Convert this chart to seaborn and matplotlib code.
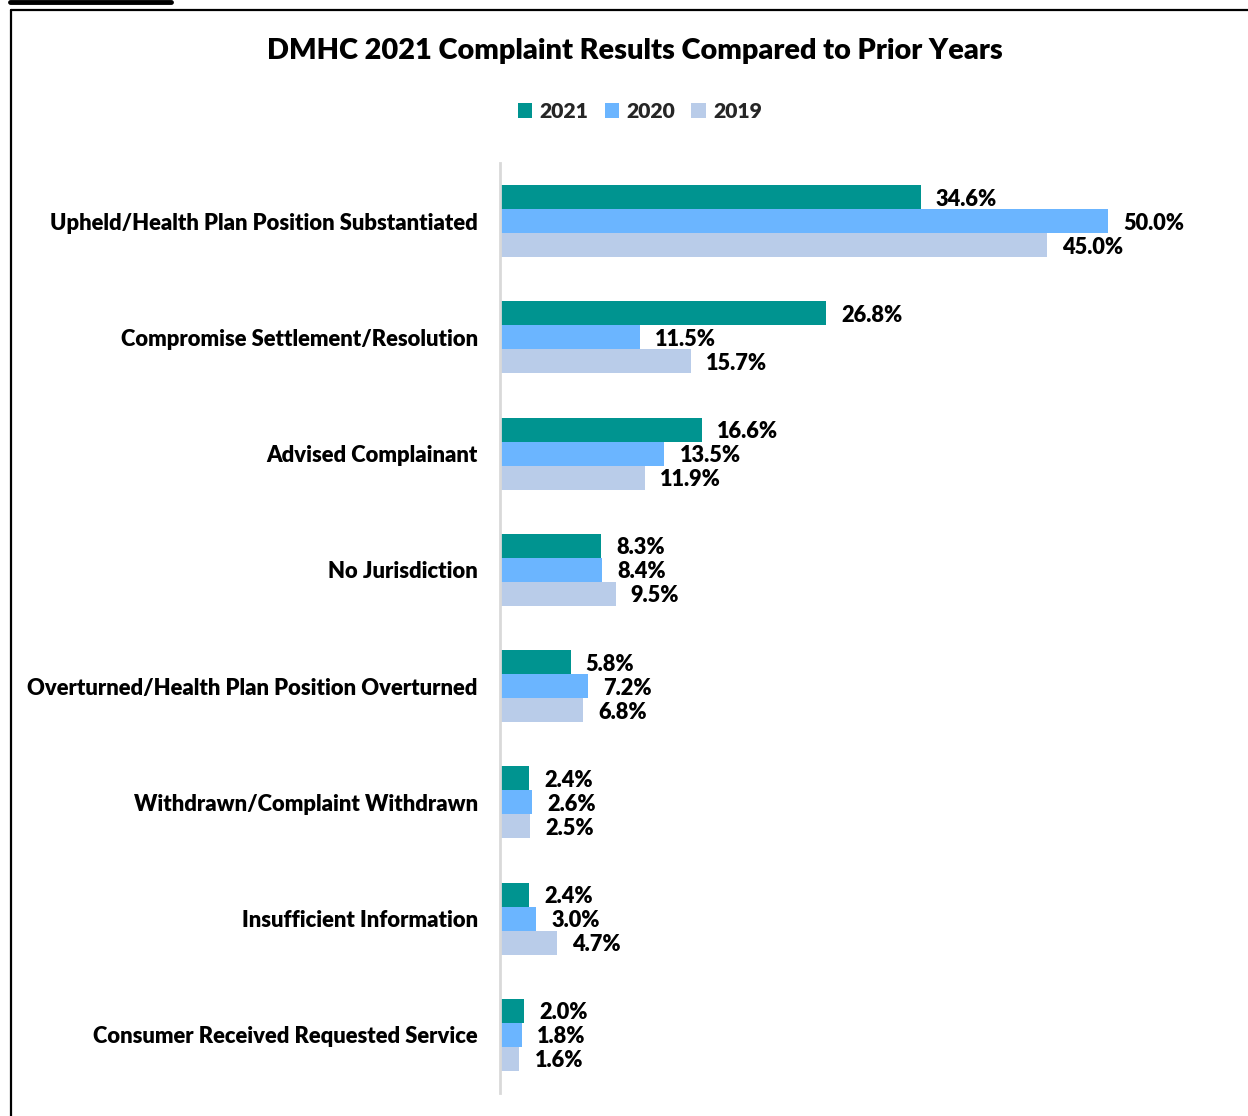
import matplotlib
matplotlib.use("Agg")
import matplotlib.pyplot as plt
from matplotlib.patches import Patch
import seaborn as sns
import pandas as pd

categories = [
    "Upheld/Health Plan Position Substantiated",
    "Compromise Settlement/Resolution",
    "Advised Complainant",
    "No Jurisdiction",
    "Overturned/Health Plan Position Overturned",
    "Withdrawn/Complaint Withdrawn",
    "Insufficient Information",
    "Consumer Received Requested Service",
]
years = ["2021", "2020", "2019"]
values_2021 = [34.6, 26.8, 16.6, 8.3, 5.8, 2.4, 2.4, 2.0]
values_2020 = [50.0, 11.5, 13.5, 8.4, 7.2, 2.6, 3.0, 1.8]
values_2019 = [45.0, 15.7, 11.9, 9.5, 6.8, 2.5, 4.7, 1.6]
colors = ["#009490", "#6BB5FF", "#B9CCE9"]

rows = []
for year, vals in zip(years, [values_2021, values_2020, values_2019]):
    for cat, v in zip(categories, vals):
        rows.append({"Category": cat, "Year": year, "Percent": v})
df = pd.DataFrame(rows)

sns.set_theme(style="white")
plt.rcParams["font.family"] = ["Lato", "DejaVu Sans"]
plt.rcParams["font.weight"] = "heavy"
WEIGHT = "heavy"

W, H = 1248, 1116
fig = plt.figure(figsize=(W / 100, H / 100), dpi=100)
ax = fig.add_axes([500 / W, 1 - 1093 / H, 748 / W, (1093 - 163) / H])

sns.barplot(data=df, y="Category", x="Percent", hue="Year", order=categories,
            hue_order=years, palette=colors, orient="h", width=0.618, gap=0,
            dodge=True, saturation=1, legend=False, ax=ax, edgecolor="none")

px_per_pct = 608 / 50.0
ax.set_xlim(0, 748 / px_per_pct)
ax.set_ylim(len(categories) - 0.5, -0.5)

for container in ax.containers:
    texts = ax.bar_label(container, labels=[f"{v:.1f}%" for v in container.datavalues],
                         padding=11, fontsize=15.7, fontweight=WEIGHT, color="black")
    for t in texts:
        t.set_va("center_baseline")

ax.set_xlabel("")
ax.set_ylabel("")
ax.set_xticks([])
ax.tick_params(axis="y", length=0, pad=16, labelsize=15.85)
for lbl in ax.get_yticklabels():
    lbl.set_fontweight(WEIGHT)
    lbl.set_color("black")
for side in ["top", "right", "bottom"]:
    ax.spines[side].set_visible(False)
ax.spines["left"].set_color("#D9D9D9")
ax.spines["left"].set_linewidth(2)

fig.text(635 / W, 1 - 51 / H, "DMHC 2021 Complaint Results Compared to Prior Years",
         ha="center", va="center", fontsize=20.75, fontweight=WEIGHT, color="black")

handles = [Patch(facecolor=c, edgecolor="none", label=y) for c, y in zip(colors, years)]
fig.legend(handles=handles, loc="center", bbox_to_anchor=(640 / W, 1 - 111 / H),
           ncol=3, frameon=False, handlelength=0.7, handleheight=0.7,
           handletextpad=0.35, columnspacing=0.75,
           prop={"size": 15.2, "weight": WEIGHT})

# frame around the chart and the heading rule above it
fig.add_artist(plt.Line2D([11 / W, 11 / W], [0, 1 - 10 / H], transform=fig.transFigure,
                          color="black", linewidth=1.6))
fig.add_artist(plt.Line2D([11 / W, 1], [1 - 10 / H, 1 - 10 / H], transform=fig.transFigure,
                          color="black", linewidth=1.6))
fig.add_artist(plt.Line2D([10 / W, 171 / W], [1 - 2 / H, 1 - 2 / H], transform=fig.transFigure,
                          color="black", linewidth=3.5))

fig.savefig("out.png", dpi=100)
